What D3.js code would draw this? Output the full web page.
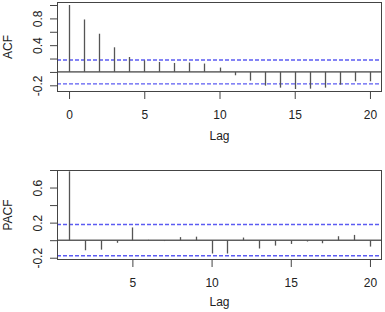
<!DOCTYPE html>
<html>
<head>
<meta charset="utf-8">
<script src="https://cdn.jsdelivr.net/npm/d3@7"></script>
<style>
  body { margin: 0; background: #fff; }
  svg { display: block; }
  text { font-family: "Liberation Sans", Arial, sans-serif; fill: #222; }
</style>
</head>
<body>
<svg id="chart" width="385" height="312"></svg>
<script>
"use strict"

// values
var acfLags = d3.range(0, 21);
var acfValues = [1.0, 0.784, 0.571, 0.368, 0.223, 0.174, 0.149, 0.134, 0.14, 0.125, 0.065,
                 -0.05, -0.13, -0.205, -0.235, -0.255, -0.25, -0.235, -0.19, -0.14, -0.14];
var acfTicks = [-0.2, 0, 0.2, 0.4, 0.6, 0.8, 1.0];
var acfTickLabels = ["-0.2", "", "", "0.4", "", "0.8", ""];
var acfLagTicks = [0, 5, 10, 15, 20];

var pacfLags = d3.range(1, 21);
var pacfValues = [0.785, -0.115, -0.108, -0.03, 0.145, 0.004, -0.01, 0.035, 0.04, -0.152,
                  -0.152, 0.03, -0.095, -0.062, -0.043, -0.015, -0.035, 0.045, 0.06, -0.073];
var pacfTicks = [-0.2, 0, 0.2, 0.4, 0.6, 0.8];
var pacfTickLabels = ["-0.2", "", "0.2", "", "0.6", ""];
var pacfLagTicks = [5, 10, 15, 20];

var ciLimit = 0.178;

var svg = d3.select("#chart");

//
// one correlogram panel
//
function drawPanel(opt) {
	var g = svg.append("g");
	var x = d3.scaleLinear().domain(opt.xDomain).range([57, 382]);
	var y = d3.scaleLinear().domain(opt.yDomain).range([opt.bottom, opt.top]);

	// axes
	var xAxis = d3.axisBottom(x).tickValues(opt.lagTicks).tickSize(7).tickPadding(11).tickFormat(d3.format("d"));
	var gx = g.append("g").attr("transform", "translate(0," + opt.bottom + ")").call(xAxis);
	gx.select(".domain").remove();
	gx.selectAll("line").attr("stroke", "#444");
	gx.selectAll("text").attr("font-size", 12).style("fill", "#222");

	var yAxis = d3.axisLeft(y).tickValues(opt.yTicks).tickSize(7).tickPadding(0)
		.tickFormat(function(d, i) { return opt.yLabels[i]; });
	var gy = g.append("g").attr("transform", "translate(57,0)").call(yAxis);
	gy.select(".domain").remove();
	gy.selectAll("line").attr("stroke", "#444");
	gy.selectAll("text")
		.attr("font-size", 12)
		.attr("text-anchor", "middle")
		.attr("x", null)
		.attr("dy", null)
		.attr("transform", "translate(-19,0) rotate(-90)")
		.attr("y", 4)
		.style("fill", "#222");

	// clipped plotting region
	var clipId = "clip" + opt.name;
	g.append("clipPath").attr("id", clipId)
		.append("rect").attr("x", 57).attr("y", opt.top).attr("width", 325).attr("height", opt.bottom - opt.top);
	var plot = g.append("g").attr("clip-path", "url(#" + clipId + ")");

	plot.append("line")
		.attr("x1", 57).attr("x2", 382)
		.attr("y1", y(0)).attr("y2", y(0))
		.attr("stroke", "#111").attr("stroke-width", 1);

	plot.selectAll("line.ci").data([ciLimit, -ciLimit]).enter().append("line")
		.attr("class", "ci")
		.attr("x1", 57).attr("x2", 382)
		.attr("y1", function(d) { return y(d); })
		.attr("y2", function(d) { return y(d); })
		.attr("stroke", "#5c5cf2").attr("stroke-width", 1.4)
		.attr("stroke-dasharray", "4,2");

	plot.selectAll("line.bar").data(opt.values).enter().append("line")
		.attr("class", "bar")
		.attr("x1", function(d, i) { return Math.round(x(opt.lags[i])) + 0.5; })
		.attr("x2", function(d, i) { return Math.round(x(opt.lags[i])) + 0.5; })
		.attr("y1", y(0))
		.attr("y2", function(d) { return y(d); })
		.attr("stroke", "#555").attr("stroke-width", 1.3);

	// frame
	g.append("rect")
		.attr("x", 57.5).attr("y", opt.top + 0.5)
		.attr("width", 324).attr("height", opt.bottom - opt.top - 1)
		.attr("fill", "none").attr("stroke", "#444").attr("stroke-width", 1);

	// titles
	g.append("text")
		.attr("x", (57 + 382) / 2).attr("y", opt.lagY)
		.attr("text-anchor", "middle").attr("font-size", 12)
		.text("Lag");
	g.append("text")
		.attr("transform", "translate(12," + ((opt.top + opt.bottom) / 2) + ") rotate(-90)")
		.attr("text-anchor", "middle").attr("font-size", 12)
		.text(opt.name);
}

drawPanel({
	name: "ACF",
	lags: acfLags, values: acfValues,
	xDomain: [-0.8, 20.8], yDomain: [-0.3, 1.045],
	top: 2, bottom: 92,
	yTicks: acfTicks, yLabels: acfTickLabels, lagTicks: acfLagTicks,
	lagY: 140
});

drawPanel({
	name: "PACF",
	lags: pacfLags, values: pacfValues,
	xDomain: [0.24, 20.76], yDomain: [-0.226, 0.8],
	top: 170, bottom: 260,
	yTicks: pacfTicks, yLabels: pacfTickLabels, lagTicks: pacfLagTicks,
	lagY: 306
});
</script>
</body>
</html>
